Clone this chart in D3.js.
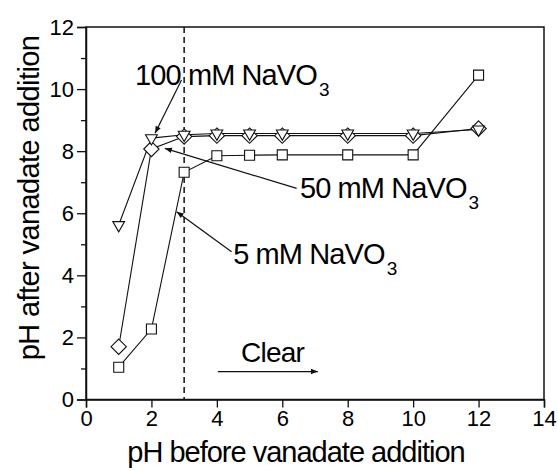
<!DOCTYPE html>
<html>
<head>
<meta charset="utf-8">
<script src="https://cdn.jsdelivr.net/npm/d3@7/dist/d3.min.js"></script>
<style>
  html, body { margin: 0; padding: 0; background: #fff; }
  svg { display: block; }
  text { font-family: "Liberation Sans", Arial, sans-serif; fill: #000; }
</style>
</head>
<body>
<svg id="chart" width="558" height="471"></svg>
<script>
// ---- data ----
const phBefore = [1, 2, 3, 4, 5, 6, 8, 10, 12];
const ph100mM = [5.62, 8.42, 8.53, 8.57, 8.57, 8.57, 8.57, 8.57, 8.70];
const ph50mM  = [1.70, 8.07, 8.47, 8.50, 8.50, 8.50, 8.50, 8.50, 8.73];
const ph5mM   = [1.04, 2.27, 7.32, 7.85, 7.87, 7.88, 7.88, 7.88, 10.45];
const xTicks = [0, 2, 4, 6, 8, 10, 12, 14];
const yTicks = [0, 2, 4, 6, 8, 10, 12];
const yMinorTicks = [1, 3, 5, 7, 9, 11];
const clearLinePH = 3;

// annotations: label position and arrow (tail -> tip) in data units
const labels = [
  { main: "100 mM NaVO", sub: "3", x: 1.5, y: 10.13, ax1: 2.92, ay1: 10.29, ax2: 2.11, ay2: 8.58 },
  { main: "50 mM NaVO",  sub: "3", x: 6.54, y: 6.49, ax1: 6.44, ay1: 6.80, ax2: 2.41, ay2: 8.09 },
  { main: "5 mM NaVO",   sub: "3", x: 4.50, y: 4.37, ax1: 4.45, ay1: 4.76, ax2: 2.77, ay2: 6.05 }
];
const clearNote = { text: "Clear", x: 4.74, y: 1.22, ax1: 4.03, ax2: 7.09, ay: 0.9 };

// ---- layout ----
const W = 558, H = 471;
const margin = { left: 86, top: 27, right: 14, bottom: 71.5 };
const svg = d3.select("#chart");
const x = d3.scaleLinear().domain([0, 14]).range([margin.left, W - margin.right]);
const y = d3.scaleLinear().domain([0, 12]).range([H - margin.bottom, margin.top]);
const FONT = "Liberation Sans, Arial, sans-serif";

svg.append("defs").append("marker")
  .attr("id", "arrow").attr("viewBox", "0 0 10 10")
  .attr("refX", 10).attr("refY", 5)
  .attr("markerWidth", 9).attr("markerHeight", 7)
  .attr("markerUnits", "userSpaceOnUse")
  .attr("orient", "auto")
  .append("path").attr("d", "M0,1 L10,5 L0,9 Z").attr("fill", "#111");

// frame
svg.append("rect")
  .attr("x", x(0)).attr("y", y(12))
  .attr("width", x(14) - x(0)).attr("height", y(0) - y(12))
  .attr("fill", "none").attr("stroke", "#111").attr("stroke-width", 1.5);

// x axis
const xAxis = d3.axisBottom(x).tickValues(xTicks).tickSize(8).tickPadding(3).tickFormat(d3.format("d"));
const gx = svg.append("g").attr("transform", `translate(0,${y(0)})`).call(xAxis);
gx.select(".domain").attr("stroke", "#111").attr("stroke-width", 1.5);
gx.selectAll(".tick line").attr("stroke", "#111").attr("stroke-width", 1.3);
gx.selectAll(".tick text").attr("font-size", 22).attr("font-family", FONT).attr("fill", "#000");

// y axis
const yAxis = d3.axisLeft(y).tickValues(yTicks).tickSize(9).tickPadding(3).tickFormat(d3.format("d"));
const gy = svg.append("g").attr("transform", `translate(${x(0)},0)`).call(yAxis);
gy.select(".domain").attr("stroke", "#111").attr("stroke-width", 1.5);
gy.selectAll(".tick line").attr("stroke", "#111").attr("stroke-width", 1.3);
gy.selectAll(".tick text").attr("font-size", 22).attr("font-family", FONT).attr("fill", "#000");
const yMinor = d3.axisLeft(y).tickValues(yMinorTicks).tickSize(5).tickFormat("");
const gym = svg.append("g").attr("transform", `translate(${x(0)},0)`).call(yMinor);
gym.select(".domain").remove();
gym.selectAll(".tick line").attr("stroke", "#111").attr("stroke-width", 1.3);

// axis titles
svg.append("text")
  .attr("x", 296).attr("y", 462)
  .attr("text-anchor", "middle").attr("font-size", 29)
  .attr("letter-spacing", -1)
  .text("pH before vanadate addition");
svg.append("text")
  .attr("transform", `translate(39,${198}) rotate(-90)`)
  .attr("text-anchor", "middle").attr("font-size", 29)
  .attr("letter-spacing", -0.6)
  .text("pH after vanadate addition");

// dashed line at pH 3
svg.append("line")
  .attr("x1", x(clearLinePH)).attr("x2", x(clearLinePH))
  .attr("y1", y(12)).attr("y2", y(0))
  .attr("stroke", "#111").attr("stroke-width", 1.5)
  .attr("stroke-dasharray", "6,4");

// series
const series = [
  { vals: ph5mM, shape: "square" },
  { vals: ph50mM, shape: "diamond" },
  { vals: ph100mM, shape: "triangle" }
];
const line = d3.line().x(d => x(d[0])).y(d => y(d[1]));
series.forEach(s => {
  const pts = phBefore.map((p, i) => [p, s.vals[i]]);
  svg.append("path").datum(pts)
    .attr("d", line).attr("fill", "none")
    .attr("stroke", "#111").attr("stroke-width", 1.1);
});
const symbols = {
  square: d3.symbol().type(d3.symbolSquare).size(100),
  diamond: d3.symbol().type(d3.symbolDiamond2).size(150),
  triangle: d3.symbol().type(d3.symbolTriangle2).size(100)
};
series.forEach(s => {
  const pts = phBefore.map((p, i) => [p, s.vals[i]]);
  svg.append("g").selectAll("path").data(pts).join("path")
    .attr("d", symbols[s.shape])
    .attr("transform", d => `translate(${x(d[0])},${y(d[1])})` + (s.shape === "triangle" ? " rotate(180)" : ""))
    .attr("fill", "#fff").attr("stroke", "#111").attr("stroke-width", 1.1);
});

// annotations
labels.forEach(l => {
  svg.append("line")
    .attr("x1", x(l.ax1)).attr("y1", y(l.ay1))
    .attr("x2", x(l.ax2)).attr("y2", y(l.ay2))
    .attr("stroke", "#111").attr("stroke-width", 1.2)
    .attr("marker-end", "url(#arrow)");
  const t = svg.append("text")
    .attr("x", x(l.x)).attr("y", y(l.y))
    .attr("font-size", 29).attr("letter-spacing", -0.9);
  t.append("tspan").text(l.main);
  t.append("tspan").attr("font-size", 19).attr("dy", 11).attr("dx", 2).text(l.sub);
});

svg.append("text")
  .attr("x", x(clearNote.x)).attr("y", y(clearNote.y))
  .attr("font-size", 28).attr("letter-spacing", -0.8)
  .text(clearNote.text);
svg.append("line")
  .attr("x1", x(clearNote.ax1)).attr("x2", x(clearNote.ax2))
  .attr("y1", y(clearNote.ay)).attr("y2", y(clearNote.ay))
  .attr("stroke", "#111").attr("stroke-width", 1.2)
  .attr("marker-end", "url(#arrow)");
</script>
</body>
</html>
